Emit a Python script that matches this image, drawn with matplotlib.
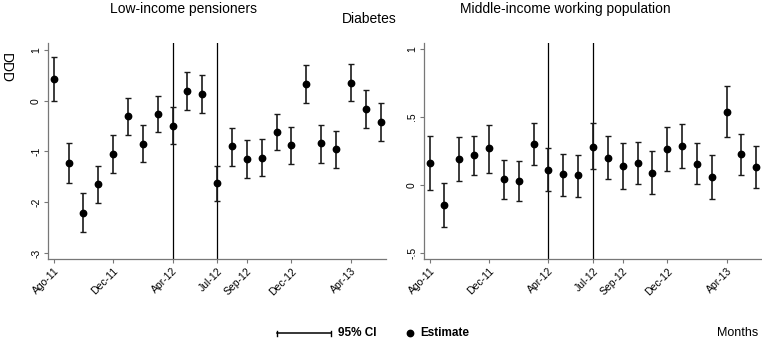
import matplotlib
matplotlib.use("Agg")
import matplotlib.pyplot as plt
import numpy as np

plt.rcParams['font.family'] = ['Liberation Sans', 'DejaVu Sans']

months = ["Ago-11", "Sep-11", "Oct-11", "Nov-11", "Dec-11", "Jan-12", "Feb-12", "Mar-12",
          "Apr-12", "May-12", "Jun-12", "Jul-12", "Aug-12", "Sep-12", "Oct-12", "Nov-12",
          "Dec-12", "Jan-13", "Feb-13", "Mar-13", "Apr-13", "May-13", "Jun-13"]
tick_labels = ["Ago-11", "Dec-11", "Apr-12", "Jul-12", "Sep-12", "Dec-12", "Apr-13"]
event_months = ["Apr-12", "Jul-12"]

low_est = [0.42, -1.23, -2.21, -1.64, -1.05, -0.31, -0.85, -0.26, -0.50, 0.19, 0.13, -1.63,
           -0.90, -1.15, -1.12, -0.62, -0.88, 0.33, -0.84, -0.96, 0.35, -0.16, -0.42]
low_lo = [-0.01, -1.62, -2.59, -2.01, -1.42, -0.68, -1.21, -0.61, -0.86, -0.18, -0.24, -1.98,
          -1.28, -1.52, -1.48, -0.97, -1.25, -0.04, -1.22, -1.32, -0.01, -0.54, -0.80]
low_hi = [0.87, -0.83, -1.82, -1.28, -0.67, 0.06, -0.48, 0.10, -0.13, 0.56, 0.50, -1.28,
          -0.53, -0.77, -0.75, -0.26, -0.52, 0.71, -0.47, -0.60, 0.72, 0.21, -0.04]

mid_est = [0.16, -0.15, 0.19, 0.22, 0.27, 0.045, 0.03, 0.30, 0.11, 0.08, 0.07, 0.28,
           0.20, 0.14, 0.16, 0.09, 0.265, 0.285, 0.157, 0.056, 0.54, 0.225, 0.13]
mid_lo = [-0.04, -0.31, 0.027, 0.076, 0.09, -0.10, -0.12, 0.145, -0.047, -0.078, -0.086, 0.115,
          0.047, -0.03, 0.007, -0.066, 0.103, 0.123, 0.01, -0.105, 0.353, 0.076, -0.025]
mid_hi = [0.358, 0.017, 0.35, 0.36, 0.44, 0.186, 0.179, 0.458, 0.272, 0.23, 0.218, 0.453,
          0.36, 0.311, 0.319, 0.252, 0.426, 0.446, 0.306, 0.22, 0.728, 0.375, 0.289]

low_yticks = [1, 0, -1, -2, -3]
low_yticklabels = ["1", "0", "-1", "-2", "-3"]
mid_yticks = [1, 0.5, 0, -0.5]
mid_yticklabels = ["1", ".5", "0", "-.5"]

W, H = 762, 338
fig = plt.figure(figsize=(W / 100, H / 100), dpi=100)

def fx(px):
    return px / W

def fy(py):
    return 1 - py / H

top_px, bot_px = 43, 259
ax1 = fig.add_axes([fx(48), fy(bot_px), fx(385.7 - 48), (bot_px - top_px) / H])
ax2 = fig.add_axes([fx(424), fy(bot_px), fx(761.5 - 424), (bot_px - top_px) / H])

x = np.arange(len(months))
tick_pos = [months.index(m) for m in tick_labels]
event_pos = [months.index(m) for m in event_months]

def style(ax, est, lo, hi, ylim, yt, ytl):
    est = np.array(est); lo = np.array(lo); hi = np.array(hi)
    ax.errorbar(x, est, yerr=[est - lo, hi - est], fmt='o', color='black',
                ecolor='#1a1a1a', elinewidth=1.2, capsize=1.9, capthick=1.0,
                markersize=4.6, zorder=3)
    for p in event_pos:
        ax.axvline(p, color='black', linewidth=0.9, zorder=2)
    ax.set_xlim(-0.38, 22.35)
    ax.set_ylim(*ylim)
    ax.set_yticks(yt)
    ax.set_yticklabels(ytl, rotation=90, va='center', fontsize=7.5)
    ax.set_xticks(tick_pos)
    ax.set_xticklabels(tick_labels, rotation=45, ha='right', rotation_mode='anchor', fontsize=7.5)
    for s in ['top', 'right']:
        ax.spines[s].set_visible(False)
    for s in ['left', 'bottom']:
        ax.spines[s].set_color('#777777')
        ax.spines[s].set_linewidth(0.9)
    ax.tick_params(axis='both', colors='#777777', labelcolor='black', length=3, width=0.8, pad=2)

style(ax1, low_est, low_lo, low_hi, (-3.118, 1.137), low_yticks, low_yticklabels)
style(ax2, mid_est, mid_lo, mid_hi, (-0.544, 1.044), mid_yticks, mid_yticklabels)

fig.text(fx(184), fy(9), "Low-income pensioners", ha='center', va='center', fontsize=10)
fig.text(fx(369), fy(19), "Diabetes", ha='center', va='center', fontsize=10)
fig.text(fx(565), fy(9), "Middle-income working population", ha='center', va='center', fontsize=10)
fig.text(fx(6), fy(68), "DDD", ha='center', va='center', fontsize=10, rotation=270)

# legend
ly = fy(333)
fig.lines.append(plt.Line2D([fx(277), fx(331)], [ly, ly], color='black', linewidth=1.1,
                            transform=fig.transFigure))
for xc in (277, 331):
    fig.lines.append(plt.Line2D([fx(xc), fx(xc)], [fy(330.5), fy(335.5)], color='black',
                                linewidth=1.0, transform=fig.transFigure))
fig.text(fx(338), ly, "95% CI", ha='left', va='center', fontsize=8.5, fontweight='bold')
fig.lines.append(plt.Line2D([fx(410)], [ly], marker='o', color='black', markersize=4.6,
                            linestyle='none', transform=fig.transFigure))
fig.text(fx(420), ly, "Estimate", ha='left', va='center', fontsize=8.5, fontweight='bold')
fig.text(fx(758), ly, "Months", ha='right', va='center', fontsize=9)

fig.savefig("out.png", dpi=100)
